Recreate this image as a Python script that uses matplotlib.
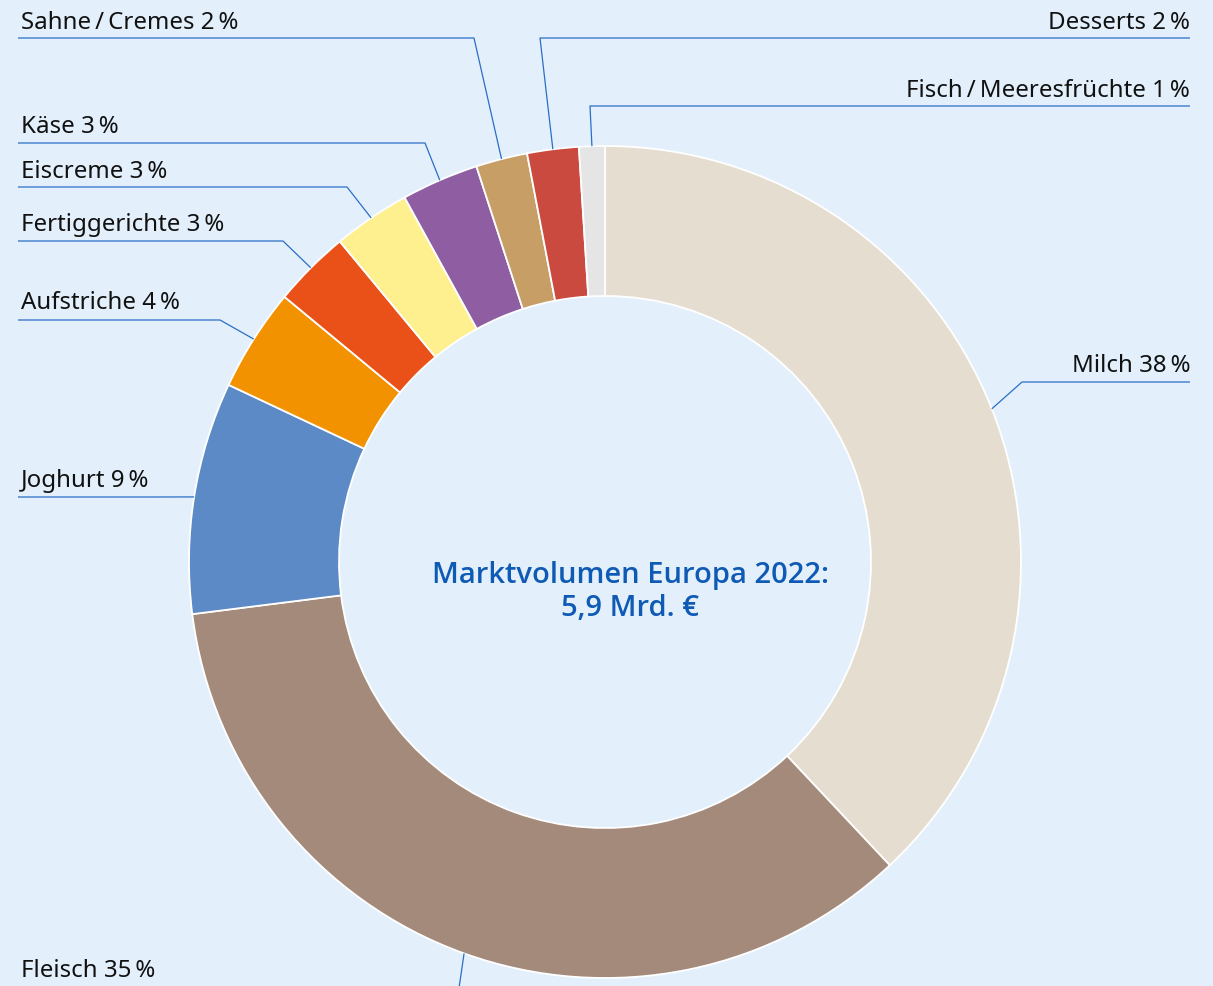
import numpy as np
import matplotlib
matplotlib.use("Agg")
import matplotlib.pyplot as plt

# data
categories = ["Milch", "Fleisch", "Joghurt", "Aufstriche", "Fertiggerichte",
              "Eiscreme", "Käse", "Sahne\u2009/\u2009Cremes", "Desserts",
              "Fisch\u2009/\u2009Meeresfrüchte"]
shares = [38, 35, 9, 4, 3, 3, 3, 2, 2, 1]
colors = ["#E5DDD0", "#A48A7A", "#5B8AC6", "#F39200", "#E95118",
          "#FFF08F", "#8F5EA2", "#C89E67", "#CB4A3F", "#E5E5E5"]
center_text = "Marktvolumen Europa 2022:\n5,9 Mrd. €"

# label layout (pixel coords): side, text y, line y, elbow x
label_layout = {
    "Milch": ("right", 366, 382, 1022),
    "Fleisch": ("left", 971, 995, 458),
    "Joghurt": ("left", 481, 497, 157),
    "Aufstriche": ("left", 303, 320, 220),
    "Fertiggerichte": ("left", 225, 241, 283),
    "Eiscreme": ("left", 172, 187, 347),
    "Käse": ("left", 127, 143, 425),
    "Sahne\u2009/\u2009Cremes": ("left", 23, 38, 474),
    "Desserts": ("right", 23, 38, 540),
    "Fisch\u2009/\u2009Meeresfrüchte": ("right", 91, 106, 590),
}

W, H = 1213, 986
bg = "#E3F0FC"
line_c = "#2A6EC6"
cx, cy, R, width = 605, 562, 416, 150

plt.rcParams['font.family'] = ['Noto Sans', 'DejaVu Sans']

fig = plt.figure(figsize=(W / 100, H / 100), dpi=100, facecolor=bg)
ax = fig.add_axes([0, 0, 1, 1])
ax.set_facecolor(bg)

# y axis runs downward (pixel coords), so counterclock in data = clockwise on screen
ax.pie(shares, colors=colors, center=(cx, cy), radius=R,
       startangle=-90, counterclock=True, frame=True,
       wedgeprops=dict(width=width, edgecolor="white", linewidth=1.3))
ax.set_xlim(0, W)
ax.set_ylim(H, 0)
ax.set_aspect("equal")
ax.axis("off")

cum = np.cumsum([0] + shares[:-1])
for name, start, val in zip(categories, cum, shares):
    mid = (start + val / 2) / 100 * 2 * np.pi  # clockwise from top
    ax_x = cx + R * np.sin(mid)
    ax_y = cy - R * np.cos(mid)
    side, ty, ly, ex = label_layout[name]
    label = f"{name} {val}\u2009%"
    x0 = 18 if side == "left" else 1190
    ax.plot([x0, ex, ax_x], [ly, ly, ax_y], color=line_c, lw=0.9,
            solid_capstyle="butt", zorder=1, clip_on=False)
    tx = 21 if side == "left" else 1190
    ax.text(tx, ty, label, ha=side, va="center", fontsize=17.3, color="#111111")

ax.text(cx + 25, 592, center_text, ha="center", va="center", fontsize=21,
        family=["Open Sans", "DejaVu Sans"], fontweight="semibold",
        color="#0F5AB4", linespacing=1.2)

fig.savefig("out.png", dpi=100, facecolor=bg)
